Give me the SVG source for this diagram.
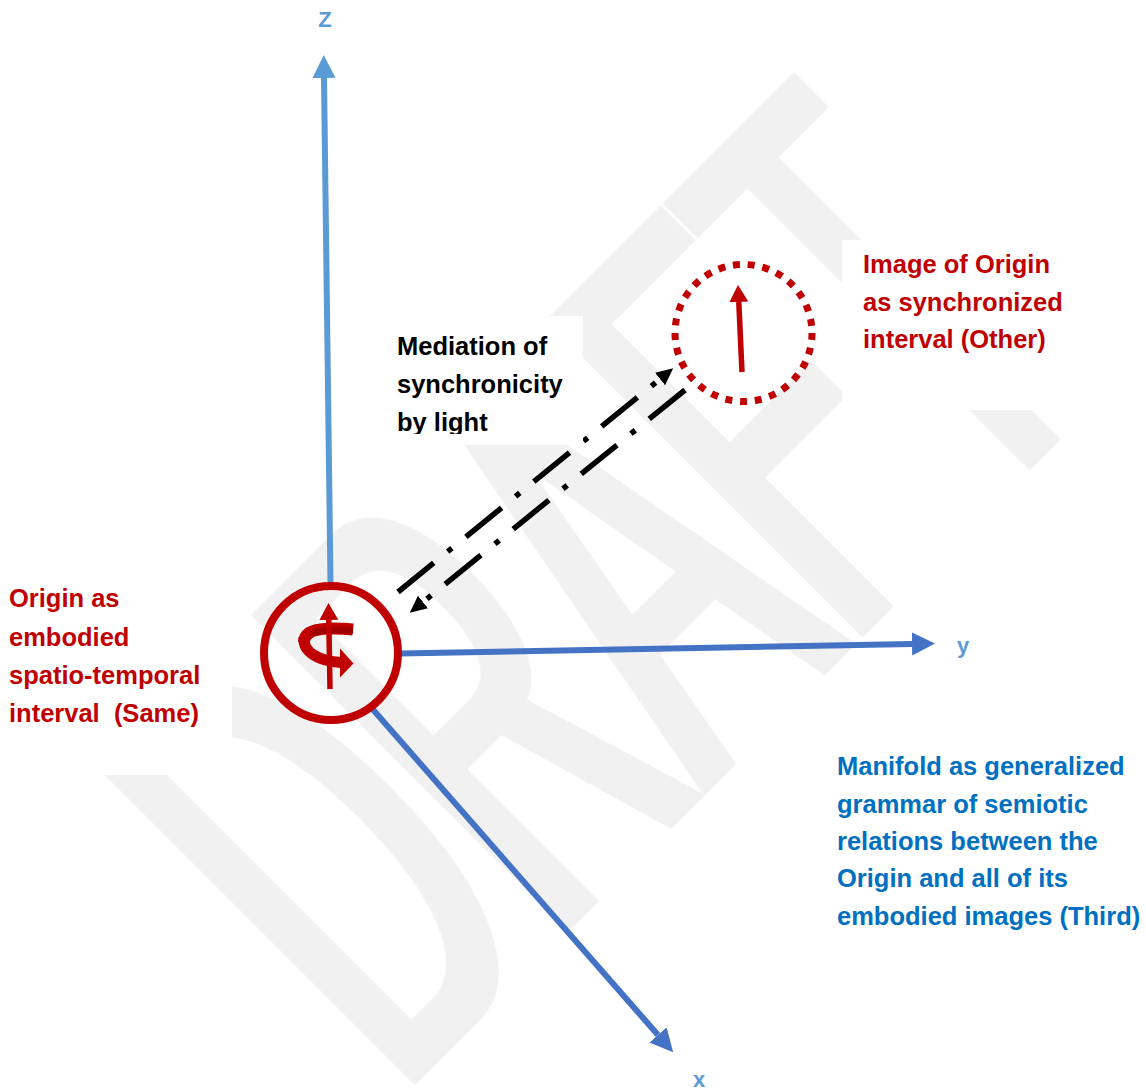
<svg xmlns="http://www.w3.org/2000/svg" width="1146" height="1090" viewBox="0 0 1146 1090">
<defs>
<style>
.lbl{font-family:"Liberation Sans",Arial,sans-serif;font-weight:bold;font-size:25.5px}
.red{fill:#C00000}
.blue{fill:#0070C0}
.blk{fill:#000}
.axl{font-family:"Liberation Sans",Arial,sans-serif;font-weight:bold;font-size:22px;fill:#5B9BD5;text-anchor:middle}
.wm{font-family:"Liberation Sans",Arial,sans-serif;font-size:652px;fill:#f1f1f1}
.box{fill:#fff}
.axZ{stroke:#5B9BD5;stroke-width:6;fill:none}
.axB{stroke:#4472C4;stroke-width:6;fill:none}
.light{stroke:#000;stroke-width:5.5;fill:none;stroke-dasharray:46 18 5.5 18}
.rline{stroke:#C00000;stroke-width:5.5;fill:none}
</style>
<filter id="thick" x="-10%" y="-10%" width="120%" height="120%"><feMorphology operator="dilate" radius="8 0.1"/></filter>
<marker id="ahZ" markerUnits="userSpaceOnUse" markerWidth="24" markerHeight="24" viewBox="0 -12 24 24" refX="0" refY="0" orient="auto"><path d="M0,-11.5 L23,0 L0,11.5 z" fill="#5B9BD5"/></marker>
<marker id="ahB" markerUnits="userSpaceOnUse" markerWidth="24" markerHeight="24" viewBox="0 -12 24 24" refX="0" refY="0" orient="auto"><path d="M0,-11.5 L23,0 L0,11.5 z" fill="#4472C4"/></marker>
<marker id="ahK" markerUnits="userSpaceOnUse" markerWidth="18" markerHeight="18" viewBox="0 -9 18 18" refX="0" refY="0" orient="auto"><path d="M0,-8 L17,0 L0,8 z" fill="#000"/></marker>
<marker id="ahR" markerUnits="userSpaceOnUse" markerWidth="18" markerHeight="22" viewBox="0 -11 18 22" refX="0" refY="0" orient="auto"><path d="M0,-9.5 L17,0 L0,9.5 z" fill="#C00000"/></marker>
<clipPath id="medclip"><rect x="380" y="300" width="220" height="134"/></clipPath>
</defs>
<rect width="1146" height="1090" fill="#fff"/>

<g id="watermark" transform="translate(403,1097) rotate(-45)">
<text class="wm" x="0" y="0" textLength="1000" lengthAdjust="spacingAndGlyphs" filter="url(#thick)">DRAFT</text>
</g>

<g id="connectors">
<line id="axis-z" class="axZ" x1="330.5" y1="583" x2="324" y2="78" marker-end="url(#ahZ)"/>
<line id="axis-y" class="axB" x1="400" y1="653.5" x2="912" y2="644" marker-end="url(#ahB)"/>
<line id="axis-x" class="axB" x1="369" y1="705" x2="658" y2="1035" marker-end="url(#ahB)"/>
<line id="light-out" class="light" x1="398" y1="592" x2="660" y2="379" marker-end="url(#ahK)"/>
<line id="light-back" class="light" x1="685" y1="390" x2="423" y2="602" marker-end="url(#ahK)"/>
</g>

<g id="origin">
<circle cx="331" cy="653" r="67" fill="none" stroke="#C00000" stroke-width="8"/>
<path d="M353,629.5 C336,627.5 316,628 309,633 C305,636 304,640 304,642" fill="none" stroke="#C00000" stroke-width="12"/>
<path d="M353,631 C336,629.5 318,630 312,634" fill="none" stroke="#A00000" stroke-width="6"/>
<path d="M304,638 C303,652 318,661 341,662.5" fill="none" stroke="#C00000" stroke-width="11"/>
<polygon points="340,648.5 353.5,663.5 340,677.5" fill="#C00000"/>
<line class="rline" x1="330" y1="689" x2="328.8" y2="620" marker-end="url(#ahR)"/>
</g>

<g id="image">
<circle cx="743.5" cy="333" r="68.5" fill="none" stroke="#C00000" stroke-width="7" stroke-dasharray="7 7.84"/>
<line class="rline" x1="742" y1="372" x2="738.8" y2="302" marker-end="url(#ahR)"/>
</g>

<g id="label-origin">
<rect class="box" x="0" y="580" width="232" height="195"/>
<text class="lbl red" x="9" y="607">Origin as</text>
<text class="lbl red" x="9" y="646">embodied</text>
<text class="lbl red" x="9" y="684">spatio-temporal</text>
<text class="lbl red" x="9" y="722" xml:space="preserve">interval  (Same)</text>
</g>

<g id="label-mediation">
<rect class="box" x="388" y="316" width="195" height="129"/>
<g clip-path="url(#medclip)">
<text class="lbl blk" x="397" y="355">Mediation of</text>
<text class="lbl blk" x="397" y="393">synchronicity</text>
<text class="lbl blk" x="397" y="431">by light</text>
</g>
</g>

<g id="label-image">
<rect class="box" x="842" y="240" width="233" height="170"/>
<text class="lbl red" x="863" y="273">Image of Origin</text>
<text class="lbl red" x="863" y="311">as synchronized</text>
<text class="lbl red" x="863" y="348">interval (Other)</text>
</g>

<g id="label-manifold">
<text class="lbl blue" x="837" y="775">Manifold as generalized</text>
<text class="lbl blue" x="837" y="813">grammar of semiotic</text>
<text class="lbl blue" x="837" y="850">relations between the</text>
<text class="lbl blue" x="837" y="887">Origin and all of its</text>
<text class="lbl blue" x="837" y="925">embodied images (Third)</text>
</g>

<g id="axis-labels">
<text class="axl" x="325" y="27">Z</text>
<text class="axl" x="963" y="653">y</text>
<text class="axl" x="699" y="1087">x</text>
</g>
</svg>
